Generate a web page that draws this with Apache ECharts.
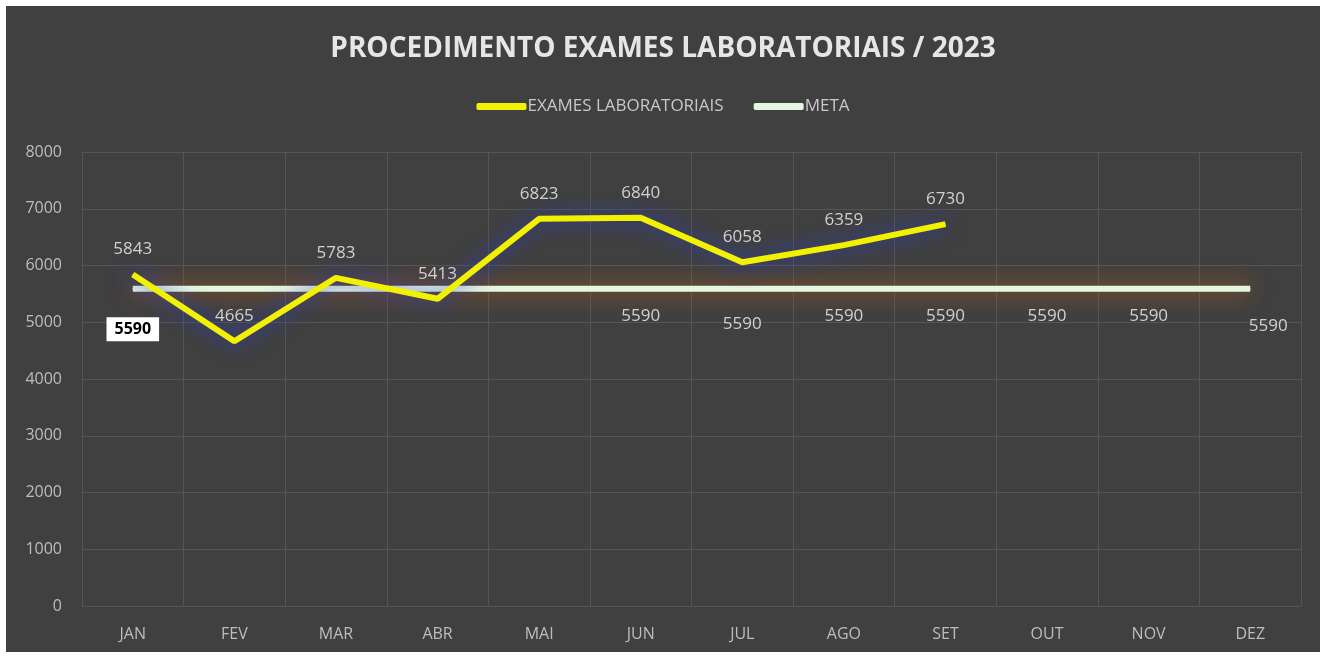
<!DOCTYPE html>
<html>
<head>
<meta charset="utf-8">
<script src="https://cdn.jsdelivr.net/npm/echarts@6/dist/echarts.min.js"></script>
<style>
html, body { margin: 0; padding: 0; background: #ffffff; }
#main { position: absolute; left: 6px; top: 6px; width: 1314px; height: 646px; background: #404040; }
</style>
</head>
<body>
<div id="main"></div>
<script>
var months = ['JAN', 'FEV', 'MAR', 'ABR', 'MAI', 'JUN', 'JUL', 'AGO', 'SET', 'OUT', 'NOV', 'DEZ'];
var exames = [5843, 4665, 5783, 5413, 6823, 6840, 6058, 6359, 6730];
var meta = [5590, 5590, 5590, 5590, 5590, 5590, 5590, 5590, 5590, 5590, 5590, 5590];
// which META labels are visible in the original
var metaLabelShown = [true, false, false, false, false, true, true, true, true, true, true, true];

var myChart = echarts.init(document.getElementById('main'));
var font = '"Open Sans", "Liberation Sans", sans-serif';

var metaData = [];
for (var i = 0; i < meta.length; i++) {
	var item = { value: meta[i], label: { show: metaLabelShown[i] } };
	if (i === 0) {
		item.label = {
			show: true, position: 'bottom', distance: 28, offset: [0, 0],
			color: '#000', fontWeight: 'bold', fontSize: 16,
			backgroundColor: '#fff', padding: [4, 8]
		};
	} else if (i === 11) {
		item.label = { show: true, position: 'bottom', distance: 28, offset: [18, 0] };
	} else if (i === 6) {
		item.label = { show: true, position: 'bottom', distance: 26 };
	}
	metaData.push(item);
}

var option = {
	backgroundColor: '#404040',
	title: {
		text: 'PROCEDIMENTO EXAMES LABORATORIAIS / 2023',
		left: 'center',
		top: 24,
		textStyle: { color: '#e6e6e6', fontSize: 28, fontWeight: 'bold', fontFamily: font }
	},
	legend: {
		top: 87,
		left: 'center',
		itemWidth: 50,
		itemHeight: 7,
		itemGap: 30,
		icon: 'roundRect',
		textStyle: { color: '#c8c8c8', fontSize: 17, fontFamily: font, padding: [0, 0, 0, -4] },
		data: ['EXAMES LABORATORIAIS', 'META']
	},
	grid: { left: 76, right: 19, top: 146, bottom: 46 },
	xAxis: {
		type: 'category',
		data: months,
		boundaryGap: true,
		axisLine: { show: false },
		axisTick: { show: false },
		axisLabel: { color: '#bdbdbd', fontSize: 16, margin: 20, fontFamily: font },
		splitLine: { show: true, lineStyle: { color: '#555555', width: 1 } }
	},
	yAxis: {
		type: 'value',
		min: 0,
		max: 8000,
		interval: 1000,
		axisLine: { show: false },
		axisTick: { show: false },
		axisLabel: {
			color: '#bdbdbd', fontSize: 16, margin: 20, fontFamily: font,
			formatter: function (v) { return String(v); }
		},
		splitLine: { lineStyle: { color: '#555555', width: 1 } }
	},
	series: [
		{
			name: 'EXAMES LABORATORIAIS',
			type: 'line',
			data: exames,
			symbol: 'circle',
			symbolSize: 1,
			z: 3,
			lineStyle: {
				color: '#f2f200', width: 6,
				shadowColor: 'rgba(40,60,200,0.95)', shadowBlur: 20
			},
			itemStyle: { color: '#f2f200' },
			label: {
				show: true, position: 'top', distance: 16,
				color: '#d0d0d0', fontSize: 17, fontFamily: font
			}
		},
		{
			name: 'META',
			type: 'line',
			data: metaData,
			symbol: 'circle',
			symbolSize: 1,
			z: 2,
			lineStyle: {
				color: '#e4f6e0', width: 6,
				shadowColor: 'rgba(200,100,20,0.95)', shadowBlur: 22
			},
			itemStyle: { color: '#e4f6e0' },
			label: {
				show: true, position: 'bottom', distance: 18,
				color: '#d0d0d0', fontSize: 17, fontFamily: font
			}
		}
	]
};
myChart.setOption(option);
</script>
</body>
</html>
